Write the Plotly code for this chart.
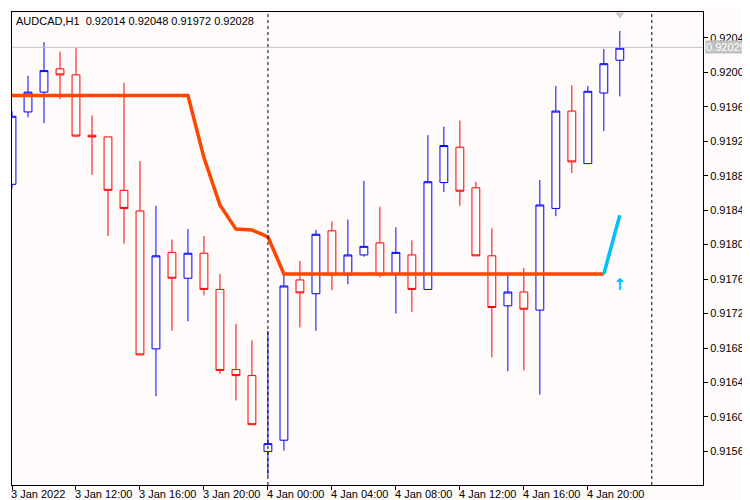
import plotly.graph_objects as go

# Hourly bars, 3 Jan 2022 08:00 .. 4 Jan 2022 22:00
opens = [0.91870, 0.91954, 0.91977, 0.92004, 0.91997, 0.91927, 0.91925, 0.91863, 0.91839, 0.91679,
         0.91791, 0.91761, 0.91790, 0.91748, 0.91655, 0.91648, 0.91560, 0.91573, 0.91759, 0.91743,
         0.91816, 0.91765, 0.91788, 0.91802, 0.91766, 0.91788, 0.91748, 0.91872, 0.91913, 0.91866,
         0.91787, 0.91729, 0.91745, 0.91724, 0.91842, 0.91955, 0.91894, 0.91976, 0.92014]
highs = [0.91955, 0.91996, 0.92035, 0.92024, 0.92028, 0.91950, 0.91925, 0.91988, 0.91897, 0.91845,
         0.91806, 0.91818, 0.91810, 0.91766, 0.91708, 0.91689, 0.91700, 0.91765, 0.91781, 0.91817,
         0.91827, 0.91829, 0.91874, 0.91844, 0.91820, 0.91805, 0.91927, 0.91937, 0.91944, 0.91873,
         0.91819, 0.91765, 0.91773, 0.91875, 0.91984, 0.91985, 0.91984, 0.92027, 0.92048]
lows = [0.91865, 0.91948, 0.91941, 0.91969, 0.91925, 0.91881, 0.91810, 0.91801, 0.91672, 0.91624,
        0.91700, 0.91711, 0.91741, 0.91650, 0.91619, 0.91591, 0.91531, 0.91561, 0.91704, 0.91700,
        0.91747, 0.91754, 0.91786, 0.91762, 0.91720, 0.91722, 0.91748, 0.91861, 0.91845, 0.91787,
        0.91669, 0.91653, 0.91654, 0.91626, 0.91833, 0.91883, 0.91894, 0.91932, 0.91972]
closes = [0.91949, 0.91977, 0.92002, 0.91997, 0.91926, 0.91925, 0.91863, 0.91842, 0.91672, 0.91787,
          0.91761, 0.91790, 0.91748, 0.91654, 0.91648, 0.91591, 0.91569, 0.91752, 0.91744, 0.91812,
          0.91765, 0.91788, 0.91798, 0.91765, 0.91791, 0.91748, 0.91873, 0.91915, 0.91862, 0.91787,
          0.91727, 0.91745, 0.91725, 0.91846, 0.91955, 0.91896, 0.91978, 0.92010, 0.92028]

# trailing stop style indicator
stop_down = [0.91973] * 12 + [0.91901, 0.91846, 0.91818, 0.91817, 0.91809] + [0.91766] * 21
stop_up = [0.91766, 0.91834]
arrow_price = 0.91752

time_labels = ["3 Jan 2022", "3 Jan 12:00", "3 Jan 16:00", "3 Jan 20:00", "4 Jan 00:00",
               "4 Jan 04:00", "4 Jan 08:00", "4 Jan 12:00", "4 Jan 16:00", "4 Jan 20:00"]
price_ticks = [0.91560, 0.91600, 0.91640, 0.91680, 0.91720, 0.91760, 0.91800, 0.91840,
               0.91880, 0.91920, 0.91960, 0.92000, 0.92040]
bid = 0.92029

bg = "#FFFBFA"
font = dict(family="Liberation Sans", size=11, color="black")
n = len(opens)
idx = list(range(n))

fig = go.Figure()
fig.add_trace(go.Candlestick(
    x=idx, open=opens, high=highs, low=lows, close=closes,
    increasing=dict(line=dict(color="#0000FF", width=1), fillcolor=bg),
    decreasing=dict(line=dict(color="#FF0000", width=1), fillcolor=bg),
    whiskerwidth=0, showlegend=False,
))
fig.add_trace(go.Scatter(x=idx[:len(stop_down)], y=stop_down, mode="lines",
                         line=dict(color="#FF4500", width=3.5), showlegend=False))
fig.add_trace(go.Scatter(x=[n - 2, n - 1], y=stop_up, mode="lines",
                         line=dict(color="#00BFFF", width=3.5), showlegend=False))
fig.add_trace(go.Scatter(x=[n - 1], y=[arrow_price], mode="text", text=["<b>↑</b>"],
                         textfont=dict(family="DejaVu Sans", size=16, color="#00BFFF"),
                         showlegend=False, hoverinfo="skip"))

# bid line and label
fig.add_hline(y=bid, line=dict(color="#C0C0C0", width=1))
fig.add_annotation(x=1, xref="paper", y=bid, xanchor="left", text=f"{bid:.5f}", showarrow=False,
                   bgcolor="#C0C0C0", font=dict(family="Liberation Sans", size=11, color="white"),
                   xshift=2, borderpad=0)
# period separators
for xs in [16, 40]:
    fig.add_vline(x=xs, line=dict(color="black", width=1, dash="dot"))

# marker of last bar on top
fig.add_trace(go.Scatter(x=[n - 1], y=[0.92067], mode="markers",
                         marker=dict(symbol="triangle-down", size=8, color="#C8C8C8"),
                         showlegend=False, hoverinfo="skip"))

# time labels, left-aligned at their ticks like MT4
for i, lab in enumerate(time_labels):
    fig.add_annotation(x=i * 4, y=0, yref="paper", yanchor="top", xanchor="left", text=lab,
                       showarrow=False, font=font, yshift=-1, xshift=-3)

fig.add_annotation(x=0, xref="paper", y=1, yref="paper", xanchor="left", yanchor="top",
                   text="AUDCAD,H1  0.92014 0.92048 0.91972 0.92028", showarrow=False,
                   font=font, xshift=2, yshift=-1)

fig.update_layout(
    width=750, height=500, margin=dict(l=4, r=55, t=4, b=23, autoexpand=False),
    paper_bgcolor=bg, plot_bgcolor=bg, font=font,
    xaxis=dict(range=[0, 43.2], tickvals=list(range(0, n, 4)), ticktext=[""] * 10,
               ticks="outside", ticklen=4, tickcolor="black", showgrid=False, zeroline=False,
               showline=True, linecolor="black", mirror=True, rangeslider=dict(visible=False),
               automargin=False),
    yaxis=dict(range=[0.91521, 0.92070], side="right", tickvals=price_ticks,
               ticktext=[f"{p:.5f}" for p in price_ticks], ticks="outside", ticklen=4,
               tickcolor="black", showgrid=False, zeroline=False, showline=True,
               linecolor="black", mirror=True, automargin=False),
)

fig.write_html("out.html")
